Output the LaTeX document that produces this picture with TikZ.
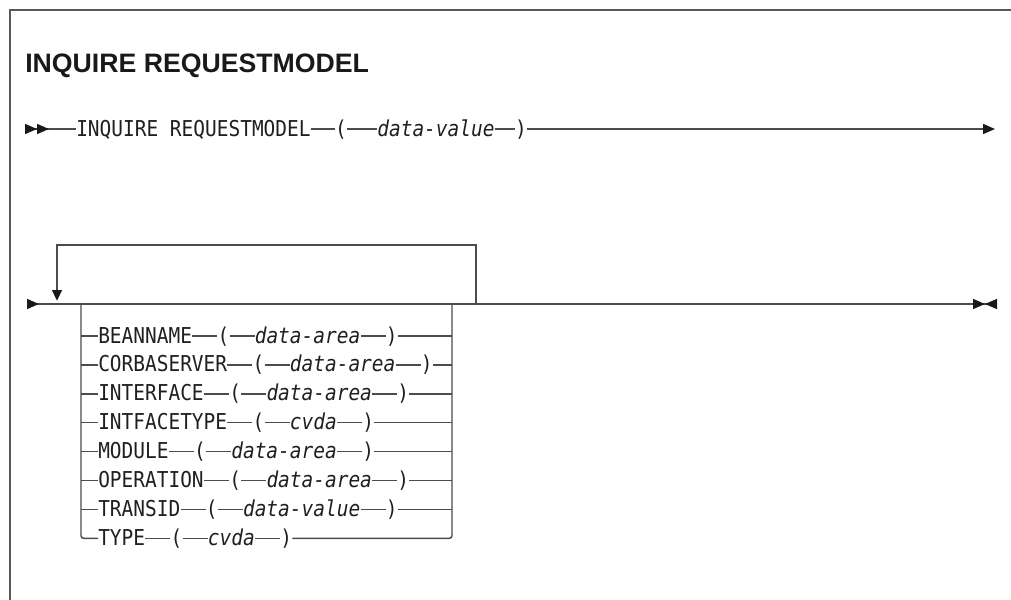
\documentclass[tikz,border=0pt]{standalone}
\usepackage{fontspec}
\setmainfont{Liberation Sans}
\newfontfamily\diagfont[FakeStretch=0.89]{DejaVu Sans Mono}
\usepackage{tikz}
\usetikzlibrary{arrows.meta, positioning, calc}

\begin{document}
\begin{tikzpicture}[
        x=0.75pt, y=-0.75pt,
        node distance=18.75pt,
        mk/.tip={Triangle[length=9pt, width=7.5pt, color=black!90]},
        mkr/.tip={Triangle[length=9pt, width=7.5pt, color=black!90, reversed]},
        heading/.style={inner sep=0pt, anchor=base west, text=black!90, font=\bfseries\fontsize{20pt}{24pt}\selectfont},
        kw/.style={inner sep=0pt, text height=10.5pt, text depth=0pt, text=black!88, font=\diagfont\fontsize{16.4pt}{19pt}\selectfont},
        arg/.style={kw, font=\diagfont\itshape\fontsize{16.4pt}{19pt}\selectfont},
        rail/.style={draw=black!70, line width=1.1pt},
        edgeline/.style={draw=black!65, line width=1.1pt}
    ]
    \useasboundingbox (0,0) rectangle (1011,600);

    % frame (open at right and bottom)
    \coordinate (fTR) at (1011,10);
    \coordinate (fTL) at (10,10);
    \coordinate (fBL) at (10,600);
    \draw[edgeline] (fTR) -- (fTL) -- (fBL);

    \node[heading] (ttl) at (25,72) {INQUIRE REQUESTMODEL};

    % 1. first line of the command
    \coordinate (st1) at (25,129);
    \node[kw, anchor=west] (inq) at (76,129) {INQUIRE REQUESTMODEL};
    \node[kw, right=18pt of inq] (lpar) {(};
    \node[arg, right=22.5pt of lpar] (dval) {data-value};
    \node[kw, right=15pt of dval] (rpar) {)};
    \coordinate (en1) at (995,129);

    \draw[rail, {mkr[]mkr[]}-] (st1) -- (inq.west);
    \draw[rail] (inq.east) -- (lpar.west);
    \draw[rail] (lpar.east) -- (dval.west);
    \draw[rail] (dval.east) -- (rpar.west);
    \draw[rail, -{mk[]}] (rpar.east) -- (en1);

    % 2. second line with the repeatable options
    \coordinate (st2) at (27,304);
    \coordinate (en2) at (997,304);
    \draw[rail, {mkr[]}-{mk[]mkr[]}] (st2) -- (en2);

    % repeat loop
    \coordinate (lpR) at (476,304);
    \coordinate (lpL) at (57,304);
    \draw[rail, -{Triangle[length=8pt, width=7.5pt, color=black!90]}, shorten >=2.5pt] (lpR) -- ++(0,-59) -| (lpL);

    % options
    \foreach \kwd/\argtext [count=\i] in {BEANNAME/data-area, CORBASERVER/data-area, INTERFACE/data-area, INTFACETYPE/cvda, MODULE/data-area, OPERATION/data-area, TRANSID/data-value, TYPE/cvda} {
        \node[kw, anchor=west] (k\i) at (98,{307.1+28.9*\i}) {\kwd};
        \node[kw, right=of k\i] (lp\i) {(};
        \node[arg, right=of lp\i] (a\i) {\argtext};
        \node[kw, right=of a\i] (rp\i) {)};
        \draw[rail] (k\i.east) -- (lp\i.west) (lp\i.east) -- (a\i.west) (a\i.east) -- (rp\i.west);
    }

    \coordinate (chL) at (81,304);
    \coordinate (chR) at (452,304);
    \draw[rail, rounded corners=2pt] (chL) |- (k8.west);
    \draw[rail, rounded corners=2pt] (rp8.east) -| (chR);
    \foreach \i in {1,...,7} {
        \draw[rail] (chL |- k\i.west) -- (k\i.west);
        \draw[rail] (rp\i.east) -- (chR |- rp\i.east);
    }

\end{tikzpicture}
\end{document}
